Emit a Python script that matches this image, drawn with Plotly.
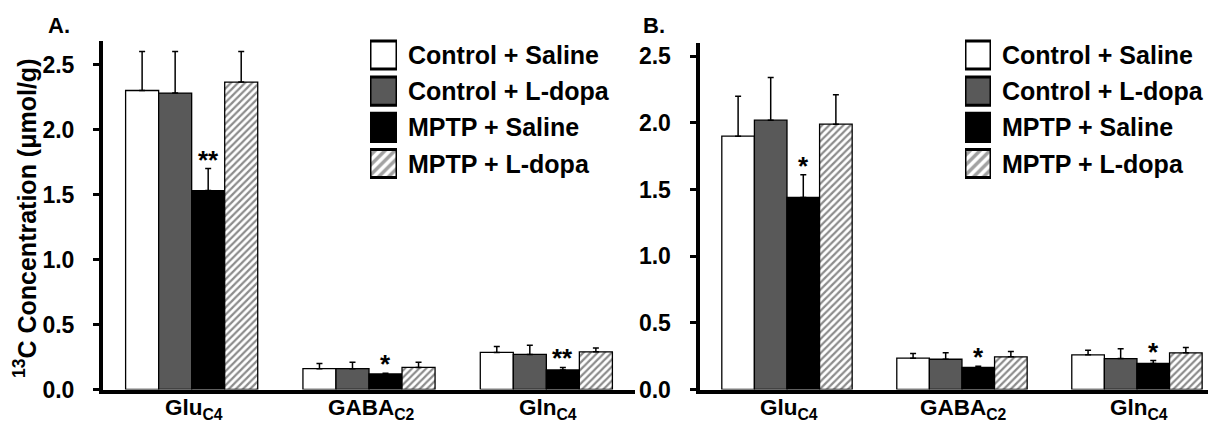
import plotly.graph_objects as go

# ---------------- data ----------------
categories = ["Glu<sub>C4</sub>", "GABA<sub>C2</sub>", "Gln<sub>C4</sub>"]
groups = ["Control + Saline", "Control + L-dopa", "MPTP + Saline", "MPTP + L-dopa"]

# Panel A values / SEM (upper only)
a_ctrl_sal = [2.30, 0.16, 0.285]
a_ctrl_ldopa = [2.28, 0.16, 0.27]
a_mptp_sal = [1.53, 0.12, 0.15]
a_mptp_ldopa = [2.365, 0.17, 0.29]
a_err_ctrl_sal = [0.30, 0.04, 0.045]
a_err_ctrl_ldopa = [0.32, 0.05, 0.07]
a_err_mptp_sal = [0.17, 0.005, 0.02]
a_err_mptp_ldopa = [0.235, 0.04, 0.03]

# Panel B values / SEM (upper only)
b_ctrl_sal = [1.90, 0.235, 0.26]
b_ctrl_ldopa = [2.02, 0.227, 0.232]
b_mptp_sal = [1.44, 0.165, 0.195]
b_mptp_ldopa = [1.99, 0.245, 0.275]
b_err_ctrl_sal = [0.30, 0.035, 0.035]
b_err_ctrl_ldopa = [0.32, 0.048, 0.073]
b_err_mptp_sal = [0.17, 0.01, 0.022]
b_err_mptp_ldopa = [0.22, 0.04, 0.04]

# significance marks on MPTP + Saline bars
a_sig = ["**", "*", "**"]
b_sig = ["*", "*", "*"]

y_ticks = [0.0, 0.5, 1.0, 1.5, 2.0, 2.5]
legend_rows = [0, 1, 2, 3]
legend_len = [1, 1, 1, 1]

# ---------------- styles ----------------
W, H = 1208, 423
FONT = "Liberation Sans, Arial, sans-serif"
fills = ["#ffffff", "#595959", "#000000", "#ffffff"]
patterns = ["", "", "", "/"]

def px_x(p):
    return p / W

def px_y(p):
    return 1 - p / H

fig = go.Figure()

def add_panel(vals, errs, xa, ya):
    for k in range(4):
        fig.add_trace(go.Bar(
            x=[0, 1, 2], y=vals[k], name=groups[k], showlegend=False,
            xaxis=xa, yaxis=ya,
            marker=dict(color=fills[k], line=dict(color="black", width=1.3),
                        pattern=dict(shape=patterns[k], fgcolor="#1a1a1a",
                                     bgcolor="#ffffff", size=5, solidity=0.45)),
            error_y=dict(type="data", symmetric=False, array=errs[k],
                         arrayminus=[0, 0, 0], color="black",
                         thickness=1.5, width=3),
        ))

add_panel([a_ctrl_sal, a_ctrl_ldopa, a_mptp_sal, a_mptp_ldopa],
          [a_err_ctrl_sal, a_err_ctrl_ldopa, a_err_mptp_sal, a_err_mptp_ldopa], "x", "y")
add_panel([b_ctrl_sal, b_ctrl_ldopa, b_mptp_sal, b_mptp_ldopa],
          [b_err_ctrl_sal, b_err_ctrl_ldopa, b_err_mptp_sal, b_err_mptp_ldopa], "x2", "y2")

# legend swatches (drawn as bars on their own small axes)
for xa, ya in (("x3", "y3"), ("x4", "y4")):
    fig.add_trace(go.Bar(
        x=legend_len, y=legend_rows, orientation="h", width=0.78,
        showlegend=False, xaxis=xa, yaxis=ya, hoverinfo="skip",
        marker=dict(color=fills, line=dict(color="black", width=3),
                    pattern=dict(shape=patterns, fgcolor="#111111",
                                 bgcolor="#ffffff", size=7, solidity=0.5)),
    ))

BARGAP = 0.255
bw = (1 - BARGAP) / 4
sig_off = 0.5 * bw

ann = []
for i in range(3):
    ann.append(dict(x=i + sig_off, y=a_mptp_sal[i] + a_err_mptp_sal[i], xref="x", yref="y",
                    text="<b>%s</b>" % a_sig[i], showarrow=False, yanchor="bottom", yshift=-8,
                    font=dict(family=FONT, size=26, color="black")))
    ann.append(dict(x=i + sig_off, y=b_mptp_sal[i] + b_err_mptp_sal[i], xref="x2", yref="y2",
                    text="<b>%s</b>" % b_sig[i], showarrow=False, yanchor="bottom", yshift=-8,
                    font=dict(family=FONT, size=26, color="black")))
    # category labels under each panel
    for xr in ("x", "x2"):
        ann.append(dict(x=i, y=px_y(393), xref=xr, yref="paper", yanchor="top",
                        xanchor="center", xshift=2,
                        text="<b>%s</b>" % categories[i], showarrow=False,
                        font=dict(family=FONT, size=22.5, color="black")))

row_centers = [55, 91, 127, 163.5]
for xs in (406, 1000):
    for r, g in enumerate(groups):
        ann.append(dict(x=px_x(xs), y=px_y(row_centers[r]), xref="paper", yref="paper",
                        xanchor="left", yanchor="middle", text="<b>%s</b>" % g, showarrow=False,
                        font=dict(family=FONT, size=25, color="black")))

ann.append(dict(x=px_x(46), y=px_y(26), xref="paper", yref="paper", xanchor="left",
                yanchor="middle", text="<b>A.</b>", showarrow=False,
                font=dict(family=FONT, size=22, color="black")))
ann.append(dict(x=px_x(641), y=px_y(26), xref="paper", yref="paper", xanchor="left",
                yanchor="middle", text="<b>B.</b>", showarrow=False,
                font=dict(family=FONT, size=22, color="black")))
ann.append(dict(x=px_x(25), y=px_y(219), xref="paper", yref="paper", xanchor="center",
                yanchor="middle", textangle=-90,
                text="<b><sup>13</sup>C Concentration (μmol/g)</b>", showarrow=False,
                font=dict(family=FONT, size=25, color="black")))

xcommon = dict(showline=True, linewidth=4, linecolor="black", ticks="",
               tickvals=[0, 1, 2], showticklabels=False,
               showgrid=False, zeroline=False, fixedrange=True, automargin=False)
ycommon = dict(showline=True, linewidth=4, linecolor="black", ticks="outside",
               ticklen=6, tickwidth=3, tickcolor="black",
               tickvals=y_ticks, ticktext=["<b>%.1f</b>" % v for v in y_ticks],
               tickfont=dict(family=FONT, size=23, color="black"),
               showgrid=False, zeroline=False, ticklabelstandoff=14, automargin=False)

fig.update_layout(
    width=W, height=H, autosize=False, margin=dict(l=0, r=0, t=0, b=0, pad=0),
    paper_bgcolor="white", plot_bgcolor="white",
    barmode="group", bargap=BARGAP, bargroupgap=0,
    showlegend=False,
    xaxis=dict(domain=[px_x(103), px_x(635)], range=[-0.5, 2.5], anchor="y", **xcommon),
    yaxis=dict(domain=[px_y(389.5), px_y(41.1)], range=[0, 2.68], anchor="x", **ycommon),
    xaxis2=dict(domain=[px_x(699.5), 1.0], range=[-0.5, 2.406], anchor="y2", **xcommon),
    yaxis2=dict(domain=[px_y(389.5), px_y(42.8)], range=[0, 2.6], anchor="x2", **ycommon),
    xaxis3=dict(domain=[px_x(370), px_x(397)], range=[0, 1], anchor="y3", visible=False),
    yaxis3=dict(domain=[px_y(181.6), px_y(36.9)], range=[3.5, -0.5], anchor="x3", visible=False),
    xaxis4=dict(domain=[px_x(965), px_x(991)], range=[0, 1], anchor="y4", visible=False),
    yaxis4=dict(domain=[px_y(181.6), px_y(36.9)], range=[3.5, -0.5], anchor="x4", visible=False),
    annotations=ann,
)

fig.write_html("out.html", config={"displayModeBar": False, "responsive": False},
               post_script="document.body.style.margin='0px';document.body.style.overflow='hidden';")
